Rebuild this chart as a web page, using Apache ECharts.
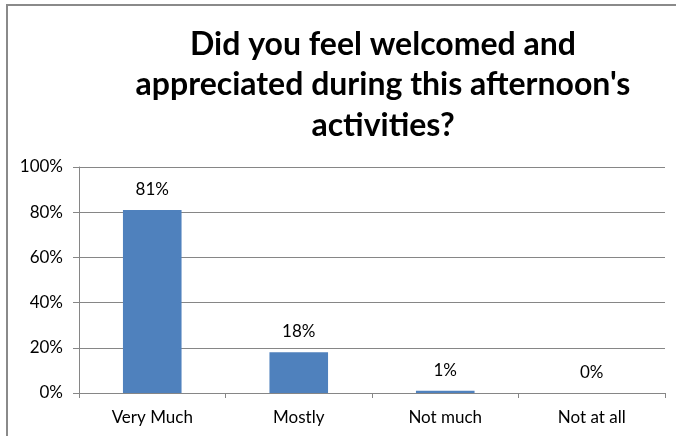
<!DOCTYPE html>
<html>
<head>
<meta charset="utf-8">
<script src="https://cdn.jsdelivr.net/npm/echarts@6/dist/echarts.min.js"></script>
<style>
html,body{margin:0;padding:0;background:#fff;overflow:hidden;}
#frame{position:absolute;left:6px;top:4px;width:700px;height:460px;border-left:2px solid #8a8a8a;border-top:2px solid #8a8a8a;}
#chart{position:absolute;left:0;top:0;width:676px;height:436px;}
</style>
</head>
<body>
<div id="frame"></div>
<div id="chart"></div>
<script>
const titleText = "Did you feel welcomed and\nappreciated during this afternoon's\nactivities?";
const categories = ["Very Much", "Mostly", "Not much", "Not at all"];
const values = [81, 18, 1, 0];
const yTicks = [0, 20, 40, 60, 80, 100];

const chart = echarts.init(document.getElementById('chart'), null, {renderer: 'canvas'});
chart.setOption({
  animation: false,
  backgroundColor: 'transparent',
  title: {
    text: titleText,
    left: 378,
    top: 19,
    textAlign: 'center',
    textStyle: {
      fontFamily: 'Lato',
      fontWeight: 'bold',
      fontSize: 32,
      lineHeight: 40.5,
      color: '#000'
    }
  },
  grid: {left: 79, right: 11, top: 167, bottom: 43, containLabel: false},
  xAxis: {
    type: 'category',
    data: categories,
    axisLine: {lineStyle: {color: '#868686', width: 1}},
    axisTick: {show: true, alignWithLabel: false, length: 5, lineStyle: {color: '#868686'}},
    axisLabel: {color: '#000', fontFamily: 'Lato', fontSize: 17, margin: 16}
  },
  yAxis: {
    type: 'value',
    min: 0, max: 100, interval: 20,
    axisLine: {show: true, lineStyle: {color: '#868686', width: 1}},
    axisTick: {show: true, length: 6, lineStyle: {color: '#868686'}},
    splitLine: {lineStyle: {color: '#868686', width: 1}},
    axisLabel: {
      color: '#000', fontFamily: 'Lato', fontSize: 17, margin: 16,
      formatter: v => yTicks.includes(v) ? v + '%' : ''
    }
  },
  series: [{
    type: 'bar',
    data: values,
    barWidth: '40%',
    itemStyle: {color: '#4F81BD'},
    label: {
      show: true, position: 'top', distance: 12,
      formatter: p => p.value + '%',
      color: '#000', fontFamily: 'Lato', fontSize: 17
    }
  }]
});
</script>
</body>
</html>
